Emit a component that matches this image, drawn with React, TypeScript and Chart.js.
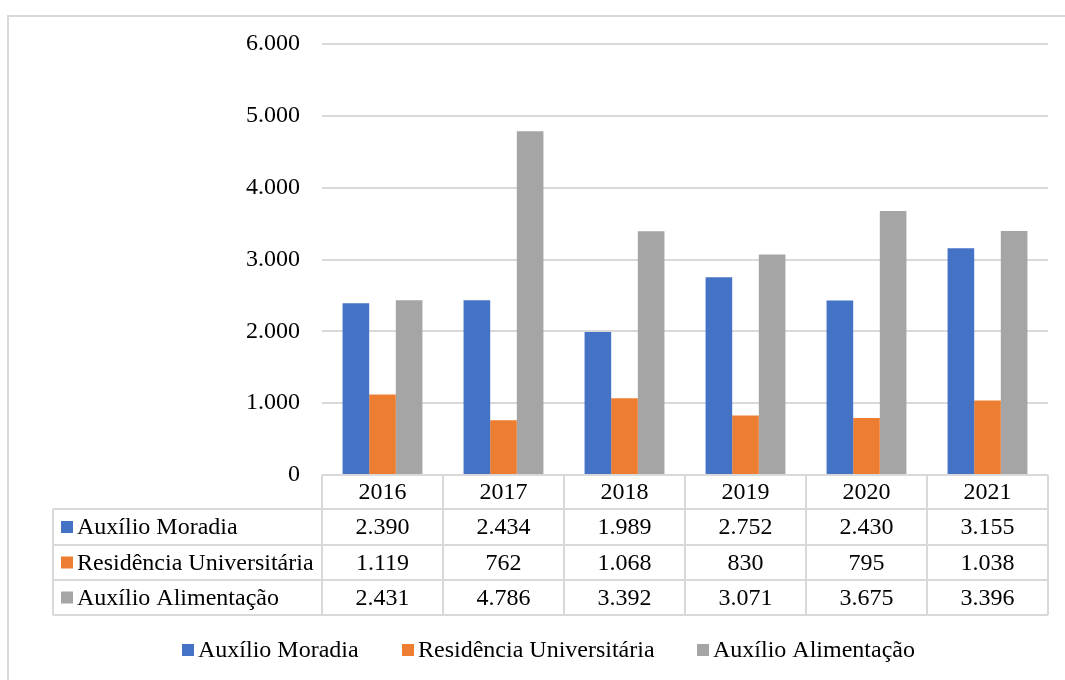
import React, { useEffect, useRef } from "react";
import { Chart, registerables } from "chart.js";

Chart.register(...registerables);

const years = ["2016", "2017", "2018", "2019", "2020", "2021"];
const seriesNames = ["Auxílio Moradia", "Residência Universitária", "Auxílio Alimentação"];
const auxilioMoradia = [2390, 2434, 1989, 2752, 2430, 3155];
const residenciaUniversitaria = [1119, 762, 1068, 830, 795, 1038];
const auxilioAlimentacao = [2431, 4786, 3392, 3071, 3675, 3396];
const seriesColors = ["#4472C4", "#ED7D31", "#A5A5A5"];
const yMax = 6000;
const yStep = 1000;

const FONT = "'Liberation Serif', 'Times New Roman', serif";
const FONT_SIZE = 24;
const LINE = "#d9d9d9";

const fmt = (n: number) => String(n).replace(/\B(?=(\d{3})+(?!\d))/g, ".");

// Draws the data table under the plot, the bottom legend and the frame.
const tablePlugin = {
  id: "dataTable",
  afterDraw(chart: any) {
    const ctx: CanvasRenderingContext2D = chart.ctx;
    const x = chart.scales.x;
    const area = chart.chartArea;
    const series = [auxilioMoradia, residenciaUniversitaria, auxilioAlimentacao];
    const colW = (area.right - area.left) / years.length;
    const top = area.bottom;
    const rowTops = [top, top + 34, top + 70, top + 105, top + 140];
    const labelLeft = 53;

    ctx.save();
    ctx.strokeStyle = LINE;
    ctx.lineWidth = 2;
    // horizontal lines
    ctx.beginPath();
    ctx.moveTo(area.left, rowTops[0]);
    ctx.lineTo(area.right, rowTops[0]);
    for (let i = 1; i < rowTops.length; i++) {
      ctx.moveTo(labelLeft, rowTops[i]);
      ctx.lineTo(area.right, rowTops[i]);
    }
    // vertical lines
    ctx.moveTo(labelLeft, rowTops[1]);
    ctx.lineTo(labelLeft, rowTops[4]);
    for (let c = 0; c <= years.length; c++) {
      const cx = area.left + c * colW;
      ctx.moveTo(cx, rowTops[0]);
      ctx.lineTo(cx, rowTops[4]);
    }
    ctx.stroke();

    ctx.font = `${FONT_SIZE}px ${FONT}`;
    ctx.fillStyle = "#000";
    ctx.textAlign = "center";
    ctx.textBaseline = "middle";
    years.forEach((y, i) => {
      const cx = x.getPixelForValue(i);
      ctx.fillText(y, cx, (rowTops[0] + rowTops[1]) / 2 + 1);
      series.forEach((s, r) => {
        ctx.fillText(fmt(s[i]), cx, (rowTops[r + 1] + rowTops[r + 2]) / 2 + 1);
      });
    });

    ctx.textAlign = "left";
    seriesNames.forEach((name, r) => {
      const cy = (rowTops[r + 1] + rowTops[r + 2]) / 2;
      ctx.fillStyle = seriesColors[r];
      ctx.fillRect(61, cy - 6, 12, 12);
      ctx.fillStyle = "#000";
      ctx.fillText(name, 77, cy + 1);
    });

    // legend
    const legendY = 650;
    const legendX = [182, 402, 697];
    seriesNames.forEach((name, r) => {
      ctx.fillStyle = seriesColors[r];
      ctx.fillRect(legendX[r], legendY - 6, 12, 12);
      ctx.fillStyle = "#000";
      ctx.fillText(name, legendX[r] + 16, legendY + 1);
    });

    // frame
    ctx.strokeStyle = LINE;
    ctx.lineWidth = 2;
    ctx.beginPath();
    ctx.moveTo(8, 700);
    ctx.lineTo(8, 16);
    ctx.lineTo(1100, 16);
    ctx.stroke();
    ctx.restore();
  },
};

export default function App() {
  const ref = useRef<HTMLCanvasElement>(null);

  useEffect(() => {
    if (!ref.current) return;
    const chart = new Chart(ref.current, {
      type: "bar",
      data: {
        labels: years,
        datasets: [
          { label: seriesNames[0], data: auxilioMoradia, backgroundColor: seriesColors[0] },
          { label: seriesNames[1], data: residenciaUniversitaria, backgroundColor: seriesColors[1] },
          { label: seriesNames[2], data: auxilioAlimentacao, backgroundColor: seriesColors[2] },
        ],
      },
      options: {
        responsive: false,
        animation: false,
        devicePixelRatio: 1,
        layout: { padding: { left: 0, top: 44, right: 17, bottom: 205 } },
        datasets: { bar: { categoryPercentage: 0.66, barPercentage: 1 } },
        plugins: { legend: { display: false }, tooltip: { enabled: false } },
        scales: {
          x: { display: false },
          y: {
            min: 0,
            max: yMax,
            afterFit: (scale: any) => {
              scale.width = 322;
            },
            border: { display: false },
            grid: { color: LINE, lineWidth: 2, drawTicks: false },
            ticks: {
              stepSize: yStep,
              padding: 22,
              color: "#000",
              font: { family: FONT, size: FONT_SIZE },
              callback: (v: any) => fmt(Number(v)),
            },
          },
        },
      },
      plugins: [tablePlugin],
    });
    return () => chart.destroy();
  }, []);

  return (
    <div style={{ position: "absolute", left: 0, top: 0, width: 1065, height: 680, overflow: "hidden", background: "#fff" }}>
      <canvas ref={ref} width={1065} height={680} />
    </div>
  );
}
